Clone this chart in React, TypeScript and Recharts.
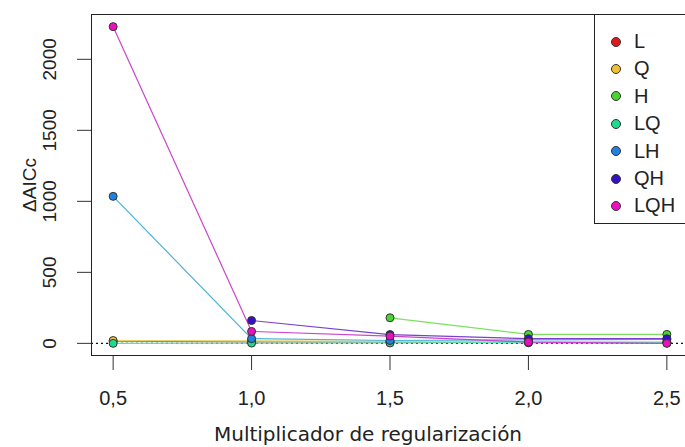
import { LineChart, Line, XAxis, YAxis, ReferenceLine, Label } from "recharts";

// multiplicador de regularización
const xValues = [0.5, 1.0, 1.5, 2.0, 2.5];

// delta AICc por combinación de features (null = sin modelo)
const valuesL = [15, 10, 8, 5, 3];
const valuesQ = [20, 18, 15, 12, 10];
const valuesH = [null, null, 180, 63, 63];
const valuesLQ = [0, 2, 3, 5, 5];
const valuesLH = [1035, 33, 20, 25, 28];
const valuesQH = [null, 161, 62, 33, 33];
const valuesLQH = [2230, 84, 51, 9, 0];

const xTicks = [0.5, 1.0, 1.5, 2.0, 2.5];
const yTicks = [0, 500, 1000, 1500, 2000];

const series = [
  { key: "L", values: valuesL, point: "#e0191c", line: "#e85050" },
  { key: "Q", values: valuesQ, point: "#f2c02e", line: "#e8d060" },
  { key: "H", values: valuesH, point: "#47d62e", line: "#7ee060" },
  { key: "LQ", values: valuesLQ, point: "#1fd98f", line: "#5fe0b0" },
  { key: "LH", values: valuesLH, point: "#1f82e0", line: "#4db2d8" },
  { key: "QH", values: valuesQH, point: "#3312c4", line: "#7a40cc" },
  { key: "LQH", values: valuesLQH, point: "#ea10c0", line: "#cc44cc" },
];

const data = xValues.map((x, i) => {
  const row: Record<string, number | null> = { x };
  series.forEach((s) => {
    row[s.key] = s.values[i];
  });
  return row;
});

const font = "'Liberation Sans', Arial, sans-serif";
const fmt = (v: number) => v.toFixed(1).replace(".", ",");

const XTick = (props: any) => {
  const { x, y, payload } = props;
  return (
    <text x={x} y={y + 26} textAnchor="middle" dominantBaseline="central" fontSize={20} fontFamily={font} fill="#222">
      {fmt(payload.value)}
    </text>
  );
};

const YTick = (props: any) => {
  const { x, y, payload } = props;
  const cx = x - 25;
  return (
    <text x={cx} y={y} textAnchor="middle" dominantBaseline="central" fontSize={19} fontFamily={font} fill="#222" transform={`rotate(-90, ${cx}, ${y})`}>
      {payload.value}
    </text>
  );
};

const XTitle = (props: any) => {
  const { viewBox } = props;
  return (
    <text
      x={viewBox.x + viewBox.width / 2 - 22}
      y={viewBox.y + viewBox.height - 6}
      textAnchor="middle"
      fontSize={20}
      fontFamily="'DejaVu Sans', sans-serif"
      fill="#222"
    >
      Multiplicador de regularización
    </text>
  );
};

export default function App() {
  return (
    <div style={{ position: "absolute", left: 0, top: 0, width: 685, height: 447, overflow: "hidden", background: "#fff" }}>
      <LineChart width={690} height={447} data={data} margin={{ top: 14, right: 1, bottom: 0, left: 0 }}>
        <XAxis
          dataKey="x"
          type="number"
          domain={[0.42, 2.58]}
          ticks={xTicks}
          allowDataOverflow
          axisLine={false}
          tickSize={14}
          tickMargin={2}
          tickLine={{ stroke: "#333" }}
          tick={<XTick />}
          height={91}
        >
          <Label content={<XTitle />} />
        </XAxis>
        <YAxis
          type="number"
          domain={[-89, 2319]}
          ticks={yTicks}
          allowDataOverflow
          axisLine={false}
          tickSize={14}
          tickMargin={2}
          tickLine={{ stroke: "#333" }}
          tick={<YTick />}
          width={91}
        >
          <Label
            value="ΔAICc"
            angle={-90}
            position="insideLeft"
            offset={29}
            style={{ fontSize: 19, fontFamily: font, fill: "#222", textAnchor: "middle" }}
          />
        </YAxis>
        <ReferenceLine y={0} stroke="#111" strokeDasharray="2 3" strokeWidth={1.2} />
        {series.map((s) => (
          <Line
            key={s.key}
            dataKey={s.key}
            stroke={s.line}
            strokeWidth={1.2}
            connectNulls={false}
            isAnimationActive={false}
            dot={{ r: 4, fill: s.point, stroke: "#333", strokeWidth: 1, fillOpacity: 1 }}
            activeDot={false}
          />
        ))}
      </LineChart>
      <div
        style={{
          position: "absolute",
          left: 91,
          top: 14,
          width: 598,
          height: 342,
          border: "1px solid #222",
          boxSizing: "border-box",
          pointerEvents: "none",
        }}
      />
      <div
        style={{
          position: "absolute",
          left: 594,
          top: 14,
          width: 100,
          height: 210,
          border: "1px solid #222",
          boxSizing: "border-box",
          background: "#fff",
          fontFamily: font,
          fontSize: 20,
          color: "#222",
        }}
      >
        {series.map((s, i) => (
          <div
            key={s.key}
            style={{ position: "absolute", left: 0, top: 13 + i * 27.4, height: 27, display: "flex", alignItems: "center" }}
          >
            <span
              style={{
                display: "inline-block",
                width: 8,
                height: 8,
                borderRadius: "50%",
                background: s.point,
                border: "1px solid #333",
                marginLeft: 16,
                marginRight: 13,
              }}
            />
            <span>{s.key}</span>
          </div>
        ))}
      </div>
    </div>
  );
}
